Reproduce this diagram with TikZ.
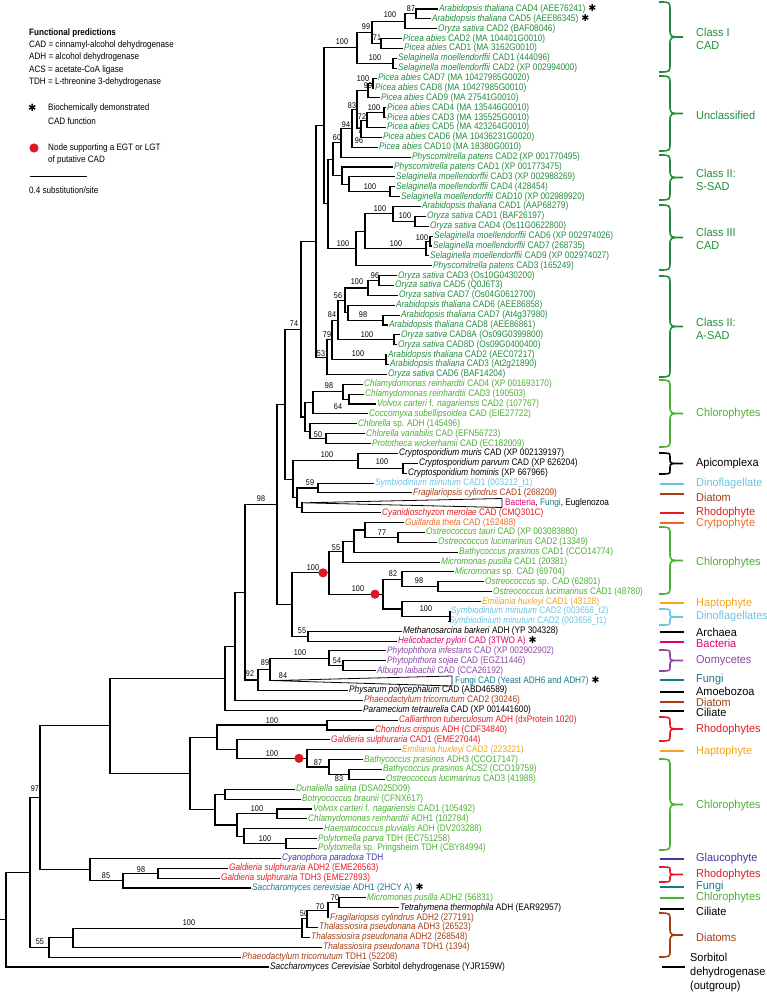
\documentclass[tikz,border=0pt]{standalone}
\usepackage{fontspec}
\setmainfont{Liberation Sans}[FakeStretch=0.87]
\newfontfamily\grpfont{Liberation Sans}[FakeStretch=0.95]
\newfontfamily\symfont{DejaVu Sans}
\usetikzlibrary{calc}
\definecolor{pg}{RGB}{35,140,60}
\definecolor{cg}{RGB}{75,175,50}
\definecolor{dino}{RGB}{110,195,225}
\definecolor{diat}{RGB}{165,60,20}
\definecolor{rhod}{RGB}{230,25,35}
\definecolor{cryp}{RGB}{240,105,30}
\definecolor{hapt}{RGB}{245,165,25}
\definecolor{bact}{RGB}{225,0,115}
\definecolor{oomy}{RGB}{140,70,165}
\definecolor{fung}{RGB}{25,120,140}
\definecolor{glau}{RGB}{60,60,160}
\definecolor{dotred}{RGB}{220,25,35}
\newcommand\bioast{\hspace{3pt}\textcolor{black}{\symfont\fontsize{9.5}{9}\selectfont ✱}}
\newcommand\lf[5]{\node[leaf,text=#4] (#1) at (#3,{9+(#2-1)*9.876}) {#5};}
\newcommand\inode[4]{\path let \p1=(#3), \p2=(#4) in coordinate (#1) at (#2pt,{0.5*(\y1+\y2)});
 \draw[br] (#1) |- (#3); \draw[br] (#1) |- (#4);}
\newcommand\bs[4]{\node[bsl] (#1) at (#2,#3) {#4};}
\newcommand\cbr[4]{\draw[gb,#3] (659,#1) .. controls (670,#1) .. (670,{#1+#4}) -- (670,{(#1+#2)/2-#4}) .. controls (670,{(#1+#2)/2}) .. (683,{(#1+#2)/2}) .. controls (670,{(#1+#2)/2}) .. (670,{(#1+#2)/2+#4}) -- (670,{#2-#4}) .. controls (670,#2) .. (659,#2);}
\newcommand\gln[2]{\draw[gb,#2] (660,#1) -- (684,#1);}
\begin{document}
\begin{tikzpicture}[x=1pt,y=-1pt,
 leaf/.style={anchor=west,inner xsep=1pt,inner ysep=0pt,font=\fontsize{9.5}{10}\selectfont},
 br/.style={line width=1.1pt,black},
 bsl/.style={inner sep=0pt,font=\fontsize{8.3}{9}\selectfont},
 gb/.style={line width=1.6pt},
 grp/.style={anchor=west,align=left,inner sep=0pt,font=\grpfont\fontsize{11.5}{13}\selectfont},
 lgt/.style={anchor=west,inner sep=0pt,font=\fontsize{9.3}{10}\selectfont}]
\useasboundingbox (0,0) rectangle (766,992);
% ---------- leaves
\lf{L1}{1}{438}{pg}{\textit{Arabidopsis thaliana} CAD4 (AEE76241)\bioast}
\lf{L2}{2}{431}{pg}{\textit{Arabidopsis thaliana} CAD5 (AEE86345)\bioast}
\lf{L3}{3}{437}{pg}{\textit{Oryza sativa} CAD2 (BAF08046)}
\lf{L4}{4}{402}{pg}{\textit{Picea abies} CAD2 (MA 104401G0010)}
\lf{L5}{5}{403}{pg}{\textit{Picea abies} CAD1 (MA 3162G0010)}
\lf{L6}{6}{397}{pg}{\textit{Selaginella moellendorffii} CAD1 (444096)}
\lf{L7}{7}{397}{pg}{\textit{Selaginella moellendorffii} CAD2 (XP 002994000)}
\lf{L8}{8}{377}{pg}{\textit{Picea abies} CAD7 (MA 10427985G0020)}
\lf{L9}{9}{374}{pg}{\textit{Picea abies} CAD8 (MA 10427985G0010)}
\lf{L10}{10}{380}{pg}{\textit{Picea abies} CAD9 (MA 27541G0010)}
\lf{L11}{11}{386}{pg}{\textit{Picea abies} CAD4 (MA 135446G0010)}
\lf{L12}{12}{386}{pg}{\textit{Picea abies} CAD3 (MA 135525G0010)}
\lf{L13}{13}{386}{pg}{\textit{Picea abies} CAD5 (MA 423264G0010)}
\lf{L14}{14}{382}{pg}{\textit{Picea abies} CAD6 (MA 10436231G0020)}
\lf{L15}{15}{378}{pg}{\textit{Picea abies} CAD10 (MA 18380G0010)}
\lf{L16}{16}{411}{pg}{\textit{Physcomitrella patens} CAD2 (XP 001770495)}
\lf{L17}{17}{393}{pg}{\textit{Physcomitrella patens} CAD1 (XP 001773475)}
\lf{L18}{18}{395}{pg}{\textit{Selaginella moellendorffii} CAD3 (XP 002988269)}
\lf{L19}{19}{395}{pg}{\textit{Selaginella moellendorffii} CAD4 (428454)}
\lf{L20}{20}{400}{pg}{\textit{Selaginella moellendorffii} CAD10 (XP 002989920)}
\lf{L21}{21}{421}{pg}{\textit{Arabidopsis thaliana} CAD1 (AAP68279)}
\lf{L22}{22}{426}{pg}{\textit{Oryza sativa} CAD1 (BAF26197)}
\lf{L23}{23}{429}{pg}{\textit{Oryza sativa} CAD4 (Os11G0622800)}
\lf{L24}{24}{433}{pg}{\textit{Selaginella moellendorffii} CAD6 (XP 002974026)}
\lf{L25}{25}{432}{pg}{\textit{Selaginella moellendorffii} CAD7 (268735)}
\lf{L26}{26}{429}{pg}{\textit{Selaginella moellendorffii} CAD9 (XP 002974027)}
\lf{L27}{27}{432}{pg}{\textit{Physcomitrella patens} CAD3 (165249)}
\lf{L28}{28}{397}{pg}{\textit{Oryza sativa} CAD3 (Os10G0430200)}
\lf{L29}{29}{394}{pg}{\textit{Oryza sativa} CAD5 (Q0J6T3)}
\lf{L30}{30}{398}{pg}{\textit{Oryza sativa} CAD7 (Os04G0612700)}
\lf{L31}{31}{395}{pg}{\textit{Arabidopsis thaliana} CAD6 (AEE86858)}
\lf{L32}{32}{400}{pg}{\textit{Arabidopsis thaliana} CAD7 (At4g37980)}
\lf{L33}{33}{388}{pg}{\textit{Arabidopsis thaliana} CAD8 (AEE86861)}
\lf{L34}{34}{400}{pg}{\textit{Oryza sativa} CAD8A (Os09G0399800)}
\lf{L35}{35}{397}{pg}{\textit{Oryza sativa} CAD8D (Os09G0400400)}
\lf{L36}{36}{387}{pg}{\textit{Arabidopsis thaliana} CAD2 (AEC07217)}
\lf{L37}{37}{389}{pg}{\textit{Arabidopsis thaliana} CAD3 (At2g21890)}
\lf{L38}{38}{387}{pg}{\textit{Oryza sativa} CAD6 (BAF14204)}
\lf{L39}{39}{363}{cg}{\textit{Chlamydomonas reinhardtii} CAD4 (XP 001693170)}
\lf{L40}{40}{364}{cg}{\textit{Chlamydomonas reinhardtii} CAD3 (190503)}
\lf{L41}{41}{376}{cg}{\textit{Volvox carteri} f. \textit{nagariensis} CAD2 (107767)}
\lf{L42}{42}{368}{cg}{\textit{Coccomyxa subellipsoidea} CAD (EIE27722)}
\lf{L43}{43}{357}{cg}{\textit{Chlorella} sp. ADH (145496)}
\lf{L44}{44}{365}{cg}{\textit{Chlorella variabilis} CAD (EFN56723)}
\lf{L45}{45}{371}{cg}{\textit{Prototheca wickerhamii} CAD (EC182009)}
\lf{L46}{46}{398}{black}{\textit{Cryptosporidium muris} CAD (XP 002139197)}
\lf{L47}{47}{418}{black}{\textit{Cryptosporidium parvum} CAD (XP 626204)}
\lf{L48}{48}{407}{black}{\textit{Cryptosporidium hominis} (XP 667966)}
\lf{L49}{49}{374}{dino}{\textit{Symbiodinium minutum} CAD1 (003212\_t1)}
\lf{L50}{50}{412}{diat}{\textit{Fragilariopsis cylindrus} CAD1 (268209)}
\coordinate (T51) at (303,{9+50*9.876});
\draw[br,line width=0.8pt] (T51) -- (502,498.5) -- (502,507.5) -- cycle;
\node[leaf] (T51l) at (504,{9+50*9.876}) {\textcolor{bact}{Bacteria}, \textcolor{fung}{Fungi}, Euglenozoa};
\lf{L52}{52}{381}{rhod}{\textit{Cyanidioschyzon merolae} CAD (CMQ301C)}
\lf{L53}{53}{404}{cryp}{\textit{Guillardia theta} CAD (162488)}
\lf{L54}{54}{425}{cg}{\textit{Ostreococcus tauri} CAD (XP 003083880)}
\lf{L55}{55}{437}{cg}{\textit{Ostreococcus lucimarinus} CAD2 (13349)}
\lf{L56}{56}{458}{cg}{\textit{Bathycoccus prasinos} CAD1 (CCO14774)}
\lf{L57}{57}{440}{cg}{\textit{Micromonas pusilla} CAD1 (20381)}
\lf{L58}{58}{454}{cg}{\textit{Micromonas} sp. CAD (69704)}
\lf{L59}{59}{484}{cg}{\textit{Ostreococcus} sp. CAD (62801)}
\lf{L60}{60}{492}{cg}{\textit{Ostreococcus lucimarinus} CAD1 (48780)}
\lf{L61}{61}{481}{hapt}{\textit{Emiliania huxleyi} CAD1 (43128)}
\lf{L62}{62}{450}{dino}{\textit{Symbiodinium minutum} CAD2 (003656\_t2)}
\lf{L63}{63}{448}{dino}{\textit{Symbiodinium minutum} CAD2 (003656\_t1)}
\lf{L64}{64}{402}{black}{\textit{Methanosarcina barkeri} ADH (YP 304328)}
\lf{L65}{65}{397}{bact}{\textit{Helicobacter pylori} CAD (3TWO A)\bioast}
\lf{L66}{66}{386}{oomy}{\textit{Phytophthora infestans} CAD (XP 002902902)}
\lf{L67}{67}{386}{oomy}{\textit{Phytophthora sojae} CAD (EGZ11446)}
\lf{L68}{68}{376}{oomy}{\textit{Albugo laibachii} CAD (CCA26192)}
\coordinate (T69) at (273,{9+68*9.876});
\draw[br,line width=0.8pt] (T69) -- (452,676) -- (452,686) -- cycle;
\node[leaf,text=fung] (T69l) at (454,{9+68*9.876}) {Fungi CAD (Yeast ADH6 and ADH7)\bioast};
\lf{L70}{70}{348}{black}{\textit{Physarum polycephalum} CAD (ABD46589)}
\lf{L71}{71}{363}{diat}{\textit{Phaeodactylum tricornutum} CAD2 (30246)}
\lf{L72}{72}{362}{black}{\textit{Paramecium tetraurelia} CAD (XP 001441600)}
\lf{L73}{73}{398}{rhod}{\textit{Calliarthron tuberculosum} ADH (dxProtein 1020)}
\lf{L74}{74}{374}{rhod}{\textit{Chondrus crispus} ADH (CDF34840)}
\lf{L75}{75}{330}{rhod}{\textit{Galdieria sulphuraria} CAD1 (EME27044)}
\lf{L76}{76}{401}{hapt}{\textit{Emiliania huxleyi} CAD2 (223221)}
\lf{L77}{77}{363}{cg}{\textit{Bathycoccus prasinos} ADH3 (CCO17147)}
\lf{L78}{78}{382}{cg}{\textit{Bathycoccus prasinos} ACS2 (CCO19759)}
\lf{L79}{79}{385}{cg}{\textit{Ostreococcus lucimarinus} CAD3 (41988)}
\lf{L80}{80}{295}{cg}{\textit{Dunaliella salina} (DSA025D09)}
\lf{L81}{81}{301}{cg}{\textit{Botryococcus braunii} (CFNX617)}
\lf{L82}{82}{312}{cg}{\textit{Volvox carteri} f. \textit{nagariensis} CAD1 (105492)}
\lf{L83}{83}{307}{cg}{\textit{Chlamydomonas reinhardtii} ADH1 (102784)}
\lf{L84}{84}{323}{cg}{\textit{Haematococcus pluvialis} ADH (DV203288)}
\lf{L85}{85}{317}{cg}{\textit{Polytomella parva} TDH (EC751258)}
\lf{L86}{86}{317}{cg}{\textit{Polytomella} sp. Pringsheim TDH (CBY84994)}
\lf{L87}{87}{281}{glau}{\textit{Cyanophora paradoxa} TDH}
\lf{L88}{88}{228}{rhod}{\textit{Galdieria sulphuraria} ADH2 (EME26563)}
\lf{L89}{89}{220}{rhod}{\textit{Galdieria sulphuraria} TDH3 (EME27893)}
\lf{L90}{90}{251}{fung}{\textit{Saccharomyces cerevisiae} ADH1 (2HCY A)\bioast}
\lf{L91}{91}{366}{cg}{\textit{Micromonas pusilla} ADH2 (56831)}
\lf{L92}{92}{399}{black}{\textit{Tetrahymena thermophila} ADH (EAR92957)}
\lf{L93}{93}{329}{diat}{\textit{Fragilariopsis cylindrus} ADH2 (277191)}
\lf{L94}{94}{318}{diat}{\textit{Thalassiosira pseudonana} ADH3 (26523)}
\lf{L95}{95}{310}{diat}{\textit{Thalassiosira pseudonana} ADH2 (268548)}
\lf{L96}{96}{322}{diat}{\textit{Thalassiosira pseudonana} TDH1 (1394)}
\lf{L97}{97}{241}{diat}{\textit{Phaeodactylum tricornutum} TDH1 (52208)}
\lf{L98}{98}{269}{black}{\textit{Saccharomyces Cerevisiae} Sorbitol dehydrogenase (YJR159W)}
% ---------- internal nodes
\inode{a1}{416}{L1}{L2}
\inode{a2}{405}{a1}{L3}
\inode{a3}{381}{L4}{L5}
\inode{a4}{372}{a2}{a3}
\inode{a5}{393}{L6}{L7}
\inode{a6}{357}{a4}{a5}
\inode{b1}{373}{L8}{L9}
\inode{b2}{368}{b1}{L10}
\inode{b3}{384}{L11}{L12}
\inode{b4}{367}{b3}{L13}
\inode{b5}{361}{b4}{L14}
\inode{b6}{357}{b2}{b5}
\inode{b7}{352}{b6}{L15}
\inode{b8}{341}{b7}{L16}
\inode{c1}{390}{L19}{L20}
\inode{c2}{349}{L18}{c1}
\inode{c3}{342}{L17}{c2}
\inode{d1}{333}{b8}{c3}
\inode{f1}{415}{L22}{L23}
\inode{f2}{393}{L21}{f1}
\inode{f3}{430}{L24}{L25}
\inode{f4}{426}{f3}{L26}
\inode{f6}{365}{f2}{f4}
\inode{f7}{356}{f6}{L27}
\inode{gg}{328}{d1}{f7}
\inode{e1}{324}{a6}{gg}
\inode{h1}{379}{L28}{L29}
\inode{h2}{368}{h1}{L30}
\inode{h3}{383}{L32}{L33}
\inode{h4}{348}{L31}{h3}
\inode{h5}{345}{h2}{h4}
\inode{h6}{394}{L34}{L35}
\inode{h7}{338}{h5}{h6}
\inode{h8}{386}{L36}{L37}
\inode{h10}{332}{h7}{h8}
\inode{h11}{327}{h10}{L38}
\inode{k1}{316}{e1}{h11}
\inode{i1}{349}{L40}{L41}
\inode{i2}{343}{L39}{i1}
\inode{i3}{313}{i2}{L42}
\inode{i4}{326}{L44}{L45}
\inode{i5}{310}{L43}{i4}
\inode{i6}{305}{i3}{i5}
\inode{j1}{301}{k1}{i6}
\inode{m1}{403}{L47}{L48}
\inode{m2}{358}{L46}{m1}
\inode{n1}{318}{L49}{L50}
\inode{n2}{302}{T51}{L52}
\inode{n3}{297}{n1}{n2}
\inode{n4}{293}{m2}{n3}
\inode{o1}{285}{j1}{n4}
\inode{q1}{398}{L54}{L55}
\inode{q2}{365}{L53}{q1}
\inode{q3}{354}{q2}{L56}
\inode{q4}{343}{q3}{L57}
\inode{q5}{438}{L59}{L60}
\inode{q6}{402}{L58}{q5}
\inode{q8}{450}{L62}{L63}
\inode{q7}{402}{L61}{q8}
\inode{q9}{383}{q6}{q7}
\inode{q10}{329}{q4}{q9}
\inode{q12}{308}{L64}{L65}
\inode{q13}{292}{q10}{q12}
\inode{p1}{277}{o1}{q13}
\inode{r1}{343}{L67}{L68}
\inode{r2}{329}{L66}{r1}
\inode{r3}{270}{r2}{T69}
\inode{r4}{258}{r3}{L70}
\inode{s1}{245}{p1}{r4}
\inode{s2}{235}{s1}{L71}
\inode{s3}{225}{s2}{L72}
\inode{t1}{327}{L73}{L74}
\inode{t2}{349}{L78}{L79}
\inode{t3}{329}{L77}{t2}
\inode{t4}{307}{L76}{t3}
\inode{w1}{237}{L75}{t4}
\inode{w2}{217}{t1}{w1}
\inode{u1}{277}{L82}{L83}
\inode{u2}{286}{L85}{L86}
\inode{v1}{225}{L80}{L81}
\inode{v2}{244}{L84}{u2}
\inode{v3}{237}{u1}{v2}
\inode{v4}{215}{v1}{v3}
\inode{W}{190}{w2}{v4}
\inode{s5}{110}{s3}{W}
\inode{G}{158}{L88}{L89}
\inode{N85}{123}{G}{L90}
\inode{X90}{90}{L87}{N85}
\inode{Y}{40}{s5}{X90}
\inode{da}{339}{L91}{L92}
\inode{db}{328}{da}{L93}
\inode{dc}{307}{db}{L94}
\inode{dd}{302}{dc}{L95}
\inode{DiaN}{73}{dd}{L96}
\inode{X55}{49}{DiaN}{L97}
\inode{X97}{30}{Y}{X55}
\inode{R}{6}{X97}{L98}
\coordinate (R0) at (0,0 |- R);
\draw[br] (R0) -- (R);
% ---------- red dots (EGT/LGT)
\fill[dotred] (q10) ++(-6,0) circle (4.6);
\fill[dotred] (q9) ++(-8,0) circle (4.6);
\fill[dotred] (t4) ++(-8,0) circle (4.6);
% ---------- bootstrap values
\bs{s1x}{411}{9}{87}
\bs{s2x}{390}{15}{100}
\bs{s3x}{366}{27}{99}
\bs{s4x}{377}{38}{71}
\bs{s5x}{342}{42}{100}
\bs{s6x}{375}{58}{100}
\bs{s7x}{363}{79}{100}
\bs{s8x}{368}{86}{99}
\bs{s9x}{352}{106}{83}
\bs{s10x}{374}{108}{100}
\bs{s11x}{362}{117}{72}
\bs{s12x}{346}{125}{94}
\bs{s13x}{360}{131}{7}
\bs{s14x}{359}{141}{96}
\bs{s15x}{337}{138}{60}
\bs{s16x}{370}{187}{100}
\bs{s17x}{380}{209}{100}
\bs{s18x}{405}{216}{100}
\bs{s19x}{422}{238}{100}
\bs{s20x}{343}{244}{100}
\bs{s21x}{396}{244}{100}
\bs{s22x}{375}{276}{96}
\bs{s23x}{357}{282}{100}
\bs{s24x}{338}{296}{56}
\bs{s25x}{332}{315}{84}
\bs{s26x}{363}{315}{98}
\bs{s27x}{367}{335}{100}
\bs{s28x}{327}{335}{79}
\bs{s29x}{294}{324}{74}
\bs{s30x}{321}{354}{53}
\bs{s31x}{358}{354}{100}
\bs{s32x}{329}{386}{98}
\bs{s33x}{338}{407}{64}
\bs{s34x}{318}{435}{50}
\bs{s35x}{327}{455}{100}
\bs{s36x}{382}{462}{100}
\bs{s37x}{310}{483}{59}
\bs{s38x}{261}{499}{98}
\bs{s39x}{382}{533}{77}
\bs{s40x}{336}{548}{55}
\bs{s41x}{313}{568}{100}
\bs{s42x}{393}{574}{82}
\bs{s43x}{419}{581}{98}
\bs{s44x}{358}{589}{100}
\bs{s45x}{426}{609}{100}
\bs{s46x}{302}{631}{55}
\bs{s47x}{300}{653}{100}
\bs{s48x}{337}{661}{54}
\bs{s49x}{265}{663}{89}
\bs{s50x}{283}{676}{84}
\bs{s51x}{250}{674}{92}
\bs{s52x}{272}{721}{100}
\bs{s53x}{272}{754}{100}
\bs{s54x}{318}{763}{87}
\bs{s55x}{339}{779}{83}
\bs{s56x}{257}{809}{100}
\bs{s57x}{265}{839}{100}
\bs{s58x}{141}{870}{98}
\bs{s59x}{106}{876}{85}
\bs{s60x}{189}{923}{100}
\bs{s61x}{304}{914}{50}
\bs{s62x}{320}{907}{70}
\bs{s63x}{335}{898}{70}
\bs{s64x}{40}{942}{55}
\bs{s65x}{35}{789}{97}
% ---------- groups
\cbr{2}{72}{pg}{8}
\node[grp,text=pg] (gl1) at (696,38.5) {Class I\\CAD};
\cbr{76}{151}{pg}{8}
\node[grp,text=pg] (gl2) at (696,115) {Unclassified};
\cbr{155}{200}{pg}{8}
\node[grp,text=pg] (gl3) at (696,180) {Class II:\\S-SAD};
\cbr{205}{270}{pg}{8}
\node[grp,text=pg] (gl4) at (696,238.5) {Class III\\CAD};
\cbr{276}{377}{pg}{8}
\node[grp,text=pg] (gl5) at (696,329) {Class II:\\A-SAD};
\cbr{380}{447}{cg}{8}
\node[grp,text=cg] (gl6) at (696,414) {Chlorophytes};
\cbr{453}{474}{black}{4}
\node[grp] (gl7) at (696,464) {Apicomplexa};
\gln{484}{dino}
\node[grp,text=dino] (gl8) at (696,484) {Dinoflagellate};
\gln{494}{diat}
\node[grp,text=diat] (gl9) at (696,497) {Diatom};
\gln{513}{rhod}
\node[grp,text=rhod] (gl10) at (696,513) {Rhodophyte};
\gln{523}{cryp}
\node[grp,text=cryp] (gl11) at (696,524) {Crytpophyte};
\cbr{527}{594}{cg}{8}
\node[grp,text=cg] (gl12) at (696,563) {Chlorophytes};
\gln{603}{hapt}
\node[grp,text=hapt] (gl13) at (696,604) {Haptophyte};
\cbr{609}{625}{dino}{3}
\node[grp,text=dino] (gl14) at (696,617) {Dinoflagellates};
\gln{632}{black}
\node[grp] (gl15) at (696,632) {Archaea};
\gln{642}{bact}
\node[grp,text=bact] (gl16) at (696,643) {Bacteria};
\cbr{650}{671}{oomy}{4}
\node[grp,text=oomy] (gl17) at (696,661) {Oomycetes};
\gln{680}{fung}
\node[grp,text=fung] (gl18) at (696,680) {Fungi};
\gln{692}{black}
\node[grp] (gl19) at (696,691) {Amoebozoa};
\gln{702}{diat}
\node[grp,text=diat] (gl20) at (696,702) {Diatom};
\gln{711}{black}
\node[grp] (gl21) at (696,712) {Ciliate};
\cbr{717}{741}{rhod}{5}
\node[grp,text=rhod] (gl22) at (696,730) {Rhodophytes};
\gln{751}{hapt}
\node[grp,text=hapt] (gl23) at (696,752) {Haptophyte};
\cbr{759}{850}{cg}{8}
\node[grp,text=cg] (gl24) at (696,806) {Chlorophytes};
\gln{859}{glau}
\node[grp,text=glau] (gl25) at (696,859) {Glaucophyte};
\cbr{867}{882}{rhod}{3}
\node[grp,text=rhod] (gl26) at (696,875) {Rhodophytes};
\gln{887}{fung}
\node[grp,text=fung] (gl27) at (696,887) {Fungi};
\gln{898}{cg}
\node[grp,text=cg] (gl28) at (696,898) {Chlorophytes};
\gln{909}{black}
\node[grp] (gl29) at (696,911) {Ciliate};
\cbr{913}{957}{diat}{7}
\node[grp,text=diat] (gl30) at (696,937) {Diatoms};
\draw[gb] (662,967) -- (685,967);
\node[grp,font=\grpfont\fontsize{11.5}{14}\selectfont] (gl31) at (690,973) {Sorbitol\\dehydrogenase\\(outgroup)};
% ---------- legend
\node[lgt,font=\fontsize{9.3}{10}\selectfont\bfseries] (lg0) at (29,33) {Functional predictions};
\node[lgt] (lg1) at (29,45) {CAD = cinnamyl-alcohol dehydrogenase};
\node[lgt] (lg2) at (29,57) {ADH = alcohol dehydrogenase};
\node[lgt] (lg3) at (29,70) {ACS = acetate-CoA ligase};
\node[lgt] (lg4) at (29,82) {TDH = L-threonine 3-dehydrogenase};
\node[lgt] (lg5) at (28,108) {{\symfont\fontsize{10}{10}\selectfont ✱}};
\node[lgt] (lg6) at (48,108) {Biochemically demonstrated};
\node[lgt] (lg7) at (48,121) {CAD function};
\fill[dotred] (34,148) circle (4.6);
\node[lgt] (lg8) at (48,148) {Node supporting a EGT or LGT};
\node[lgt] (lg9) at (48,160) {of putative CAD};
\draw[line width=1pt] (30,177) -- (87,177);
\node[lgt] (lg10) at (29,190) {0.4 substitution/site};
\end{tikzpicture}
\end{document}
